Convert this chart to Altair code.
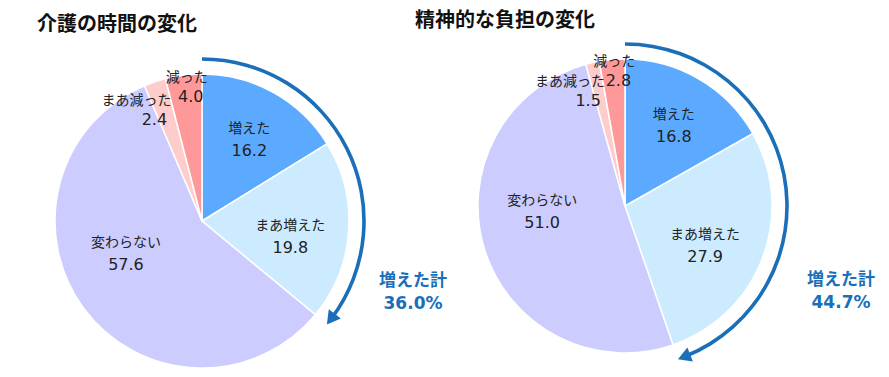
import altair as alt
import pandas as pd

categories = ["増えた", "まあ増えた", "変わらない", "まあ減った", "減った"]
colors = ["#5BAAFF", "#CCEBFF", "#CCCCFF", "#FFCCCC", "#FF9999"]
titles = ["介護の時間の変化", "精神的な負担の変化"]
values_time = [16.2, 19.8, 57.6, 2.4, 4.0]
values_mental = [16.8, 27.9, 51.0, 1.5, 2.8]
increase_cats = ["増えた", "まあ増えた"]
total_label = "増えた計"

FONT = "Noto Sans CJK JP"
NUMFONT = "DejaVu Sans"
BLUE = "#1A6FB8"
TEXT = "#222222"
R = 147      # pie radius
RA = 162     # arrow radius

# label placement style: (angle shift in degrees, radius as share of R,
#                         name x shift, small-slice layout)
label_style = {
    "増えた": (1, 0.64, 0, False),
    "まあ増えた": (6, 0.61, 0, False),
    "変わらない": (13, 0.565, 0, False),
    "まあ減った": (-6.5, 0.76, -18, True),
    "減った": (2, 0.85, -4, True),
}


def style_expr(pos):
    expr = "0"
    for cat, st in label_style.items():
        v = st[pos]
        if isinstance(v, bool):
            v = 1 if v else 0
        expr = f"(datum.category == '{cat}' ? {v} : {expr})"
    return expr


def pie(values, title, cx, cy, tx, ty, lx, ly):
    df = pd.DataFrame({"category": categories, "value": values,
                       "idx": list(range(len(categories)))})
    base = alt.Chart(df)

    arcs = base.mark_arc(radius=R, stroke="white", strokeWidth=1.5).encode(
        theta=alt.Theta("value:Q", stack=True),
        color=alt.Color("category:N",
                        scale=alt.Scale(domain=categories, range=colors),
                        legend=None),
        order=alt.Order("idx:Q"),
        x=alt.value(cx), y=alt.value(cy),
    )

    lab = (
        base.transform_window(cum="sum(value)", sort=[alt.SortField("idx")])
        .transform_joinaggregate(total="sum(value)")
        .transform_calculate(
            mid="2*PI*(datum.cum - datum.value/2)/datum.total",
            shift=style_expr(0),
            rf=style_expr(1),
            ndx=style_expr(2),
            small=style_expr(3),
        )
        .transform_calculate(
            ang="datum.mid + datum.shift*PI/180",
        )
        .transform_calculate(
            px=f"{cx} + datum.rf*{R}*sin(datum.ang)",
            py=f"{cy} - datum.rf*{R}*cos(datum.ang)",
            vtxt="format(datum.value, '.1f')",
        )
        .transform_calculate(
            nx="datum.px + datum.ndx",
            ny="datum.small ? datum.py - 19 : datum.py - 11",
            vy="datum.small ? datum.py : datum.py + 11",
        )
    )
    name_t = lab.mark_text(font=FONT, fontSize=14, baseline="middle",
                           color=TEXT).encode(
        x=alt.X("nx:Q", scale=None), y=alt.Y("ny:Q", scale=None),
        text="category:N")
    val_t = lab.mark_text(font=NUMFONT, fontSize=16, baseline="middle",
                          color=TEXT).encode(
        x=alt.X("px:Q", scale=None), y=alt.Y("vy:Q", scale=None),
        text="vtxt:N")

    inc = (
        base.transform_joinaggregate(total="sum(value)")
        .transform_filter(alt.FieldOneOfPredicate(field="category", oneOf=increase_cats))
        .transform_aggregate(inc="sum(value)", total="max(total)")
        .transform_calculate(
            t0="0",
            tend="2*PI*datum.inc/datum.total",
        )
        .transform_calculate(
            t2="datum.tend - 0.05",
            ah="datum.tend - 0.04",
        )
        .transform_calculate(
            ax=f"{cx} + {RA}*sin(datum.ah)",
            ay=f"{cy} - {RA}*cos(datum.ah)",
            adeg="datum.ah*180/PI",
            pct="format(datum.inc, '.1f') + '%'",
            lab=f"'{total_label}'",
        )
    )
    arrow = inc.mark_arc(radius=RA + 1.8, radius2=RA - 1.8, color=BLUE).encode(
        theta=alt.Theta("t0:Q", scale=None),
        theta2=alt.Theta2("t2:Q"),
        x=alt.value(cx), y=alt.value(cy),
    )
    head = inc.mark_point(shape="triangle-right", filled=True, size=230,
                          color=BLUE, opacity=1).encode(
        x=alt.X("ax:Q", scale=None), y=alt.Y("ay:Q", scale=None),
        angle=alt.Angle("adeg:Q", scale=None),
    )
    tot1 = inc.mark_text(font=FONT, fontSize=17, fontWeight="bold",
                         baseline="middle", color=BLUE).encode(
        x=alt.value(lx), y=alt.value(ly), text="lab:N")
    tot2 = inc.mark_text(font=NUMFONT, fontSize=17, fontWeight="bold",
                         baseline="middle", color=BLUE).encode(
        x=alt.value(lx), y=alt.value(ly + 23), text="pct:N")

    tdf = pd.DataFrame({"t": [title]})
    ttl = alt.Chart(tdf).mark_text(font=FONT, fontSize=20, fontWeight="bold",
                                    align="left", baseline="middle",
                                    color="#111111").encode(
        x=alt.value(tx), y=alt.value(ty), text="t:N")

    return [arcs, name_t, val_t, arrow, head, tot1, tot2, ttl]


layers = (pie(values_time, titles[0], 202, 221, 37, 25, 413, 281)
          + pie(values_mental, titles[1], 625, 206, 415, 21, 841, 280))

chart = (
    alt.layer(*layers)
    .resolve_scale(theta="independent")
    .properties(width=889, height=377, padding=0,
                autosize=alt.AutoSizeParams(type="none"))
    .configure_view(strokeWidth=0)
)

chart.save("out.html", embed_options={"renderer": "svg", "actions": False})
